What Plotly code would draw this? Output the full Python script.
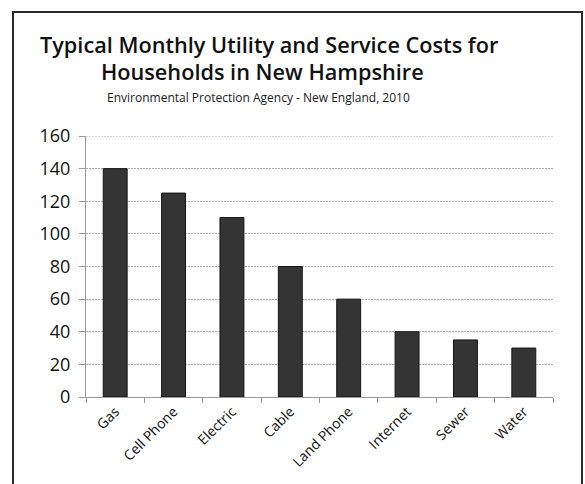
import plotly.graph_objects as go

categories = ["Gas", "Cell Phone", "Electric", "Cable", "Land Phone", "Internet", "Sewer", "Water"]
costs = [140, 125, 110, 80, 60, 40, 35, 30]
y_ticks = [0, 20, 40, 60, 80, 100, 120, 140, 160]

W, H = 585, 484
L, R, T, B = 86, 32, 136, 87
pw, ph = W - L - R, H - T - B

def px(x):
    return (x - L) / pw

def py(y):
    return (H - B - y) / ph

fig = go.Figure(go.Bar(
    x=categories, y=costs, width=0.41,
    marker=dict(color="#343434", line=dict(color="#151515", width=1)),
))

font = "Open Sans"
grid_color = "#aaaaaa"
fig.update_layout(
    width=W, height=H,
    margin=dict(l=L, r=R, t=T, b=B),
    paper_bgcolor="white", plot_bgcolor="white",
    showlegend=False,
    font=dict(family=font, color="#1a1a1a"),
    xaxis=dict(
        showgrid=False, showline=True, linecolor="#9a9a9a", linewidth=1,
        ticks="outside", tickson="boundaries", ticklen=5, tickcolor="#9a9a9a",
        tickangle=-45, tickfont=dict(size=14, color="#111111", family=font),
    ),
    yaxis=dict(
        range=[0, 160], tickvals=y_ticks, showgrid=True, gridcolor=grid_color,
        griddash="2px,1px", gridwidth=1, zeroline=False,
        showline=True, linecolor="#9a9a9a", linewidth=1,
        ticks="outside", ticklen=6, tickcolor="#9a9a9a", ticklabelstandoff=5,
        tickfont=dict(size=18, color="#111111", family=font, weight=500),
    ),
    shapes=[
        dict(type="rect", xref="paper", yref="paper",
             x0=px(13), x1=px(582), y0=py(520), y1=py(12),
             line=dict(color="#2a2a2a", width=2), layer="below"),
        dict(type="line", xref="paper", yref="y", x0=0, x1=1, y0=y_ticks[-1], y1=y_ticks[-1],
             line=dict(color=grid_color, width=1, dash="2px,1px"), layer="below"),
    ],
    annotations=[
        dict(text="Typical Monthly Utility and Service Costs for", xref="paper", yref="paper",
             x=px(269), y=py(45), showarrow=False, xanchor="center", yanchor="middle",
             font=dict(size=21.7, family=font, color="#111111", weight=600)),
        dict(text="Households in New Hampshire", xref="paper", yref="paper",
             x=px(262), y=py(72), showarrow=False, xanchor="center", yanchor="middle",
             font=dict(size=21.7, family=font, color="#111111", weight=600)),
        dict(text="Environmental Protection Agency - New England, 2010", xref="paper", yref="paper",
             x=px(258), y=py(97), showarrow=False, xanchor="center", yanchor="middle",
             font=dict(size=12, family=font, color="#1a1a1a")),
    ],
)

fig.write_html("out.html")
